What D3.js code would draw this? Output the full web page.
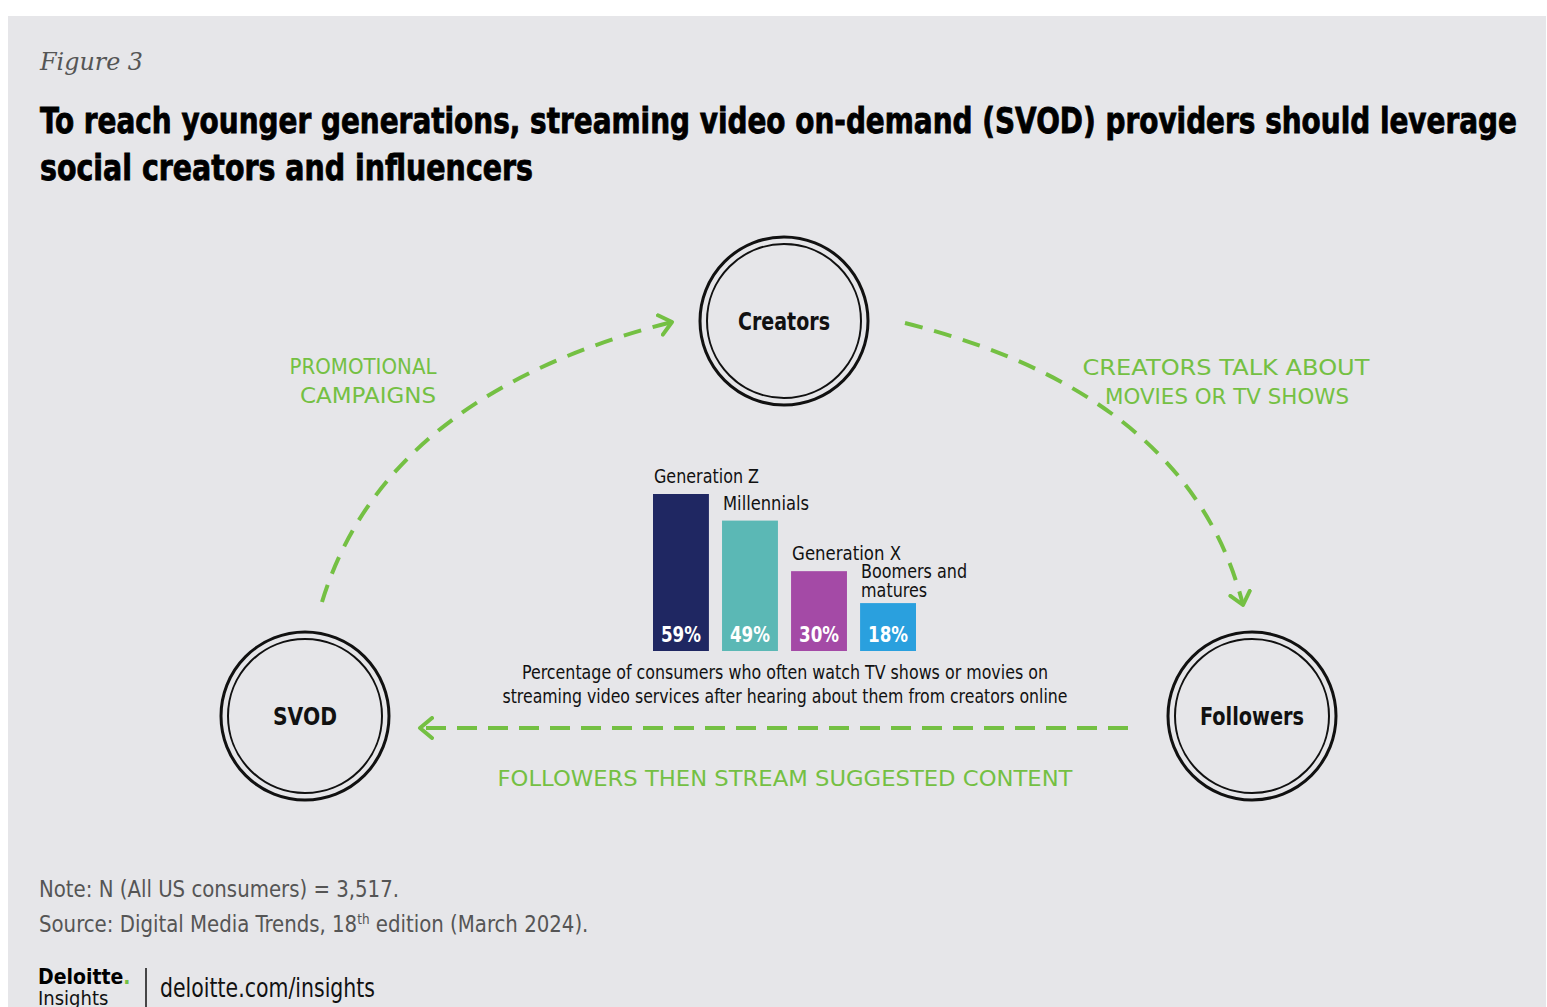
<!DOCTYPE html>
<html>
<head>
<meta charset="utf-8">
<script src="https://cdn.jsdelivr.net/npm/d3@7"></script>
<style>
  body { margin: 0; background: #ffffff; }
  svg { display: block; }
</style>
</head>
<body>
<div id="chart"></div>
<script>
// bar data
const generations = ['Generation Z', 'Millennials', 'Generation X', 'Boomers and matures'];
const genLabelLines = [['Generation Z'], ['Millennials'], ['Generation X'], ['Boomers and', 'matures']];
const shares = [59, 49, 30, 18];
const barColors = ['#1f2762', '#5bb8b5', '#a44aa6', '#2aa0de'];

// diagram data
const nodeNames = ['Creators', 'SVOD', 'Followers'];
const flowLabels = [
    ['PROMOTIONAL', 'CAMPAIGNS'],
    ['CREATORS TALK ABOUT', 'MOVIES OR TV SHOWS'],
    ['FOLLOWERS THEN STREAM SUGGESTED CONTENT']
];
const captionLines = [
    'Percentage of consumers who often watch TV shows or movies on',
    'streaming video services after hearing about them from creators online'
];

const W = 1547, H = 1007;
const green = '#74c043';
const condensed = '"DejaVu Sans Condensed", "DejaVu Sans", sans-serif';
const heavy = '"DejaVu Sans Condensed", "DejaVu Sans", sans-serif';

const svg = d3.select('#chart').append('svg')
    .attr('width', W)
    .attr('height', H);

// panel
svg.append('rect')
    .attr('x', 8).attr('y', 16)
    .attr('width', W - 9).attr('height', H - 16)
    .attr('fill', '#e6e6e9');

// header
svg.append('text')
    .attr('x', 40).attr('y', 70)
    .style('font-family', '"DejaVu Serif", "Liberation Serif", serif')
    .style('font-style', 'italic')
    .style('font-size', '25px')
    .style('fill', '#555')
    .attr('textLength', 103).attr('lengthAdjust', 'spacingAndGlyphs')
    .text('Figure 3');

const titleLines = [
    { text: 'To reach younger generations, streaming video on-demand (SVOD) providers should leverage', len: 1477 },
    { text: 'social creators and influencers', len: 493 }
];
svg.selectAll('.title')
    .data(titleLines)
    .enter()
    .append('text')
    .attr('class', 'title')
    .attr('x', 40)
    .attr('y', (d, i) => 133 + i * 47)
    .attr('textLength', d => d.len)
    .attr('lengthAdjust', 'spacingAndGlyphs')
    .style('font-family', heavy)
    .style('font-weight', 'bold')
    .style('font-size', '36px')
    .style('fill', '#000')
    .style('stroke', '#000')
    .style('stroke-width', 0.8)
    .text(d => d.text);

// nodes
const nodes = [
    { name: nodeNames[0], x: 784, y: 321, len: 92 },
    { name: nodeNames[1], x: 305, y: 716, len: 64 },
    { name: nodeNames[2], x: 1252, y: 716, len: 104 }
];
const node = svg.selectAll('.node')
    .data(nodes)
    .enter()
    .append('g')
    .attr('class', 'node')
    .attr('transform', d => `translate(${d.x},${d.y})`);

node.append('circle')
    .attr('r', 84)
    .attr('fill', 'none')
    .attr('stroke', '#111')
    .attr('stroke-width', 3);
node.append('circle')
    .attr('r', 77)
    .attr('fill', 'none')
    .attr('stroke', '#111')
    .attr('stroke-width', 2);
node.append('text')
    .attr('text-anchor', 'middle')
    .attr('dy', 9)
    .attr('textLength', d => d.len)
    .attr('lengthAdjust', 'spacingAndGlyphs')
    .style('font-family', heavy)
    .style('font-weight', 'bold')
    .style('font-size', '25px')
    .style('fill', '#111')
    .text(d => d.name);

// arrows
const defs = svg.append('defs');
defs.append('marker')
    .attr('id', 'chev')
    .attr('markerUnits', 'userSpaceOnUse')
    .attr('viewBox', '-14 -12 18 24')
    .attr('markerWidth', 18).attr('markerHeight', 24)
    .attr('refX', 0).attr('refY', 0)
    .attr('orient', 'auto')
    .append('path')
    .attr('d', 'M-12,-10 L0,0 L-12,10')
    .attr('fill', 'none')
    .attr('stroke', green)
    .attr('stroke-width', 4)
    .attr('stroke-linecap', 'round')
    .attr('stroke-linejoin', 'round');

const flows = [
    { from: [322, 602], ctrl: [385, 395], to: [672, 322], dash: '18 12' },
    { from: [905, 323], ctrl: [1190, 395], to: [1243, 605], dash: '18 12' },
    { from: [1128, 728], ctrl: null, to: [420, 728], dash: '20 11' }
];
flows.forEach(f => {
    const p = d3.path();
    p.moveTo(f.from[0], f.from[1]);
    if (f.ctrl) p.quadraticCurveTo(f.ctrl[0], f.ctrl[1], f.to[0], f.to[1]);
    else p.lineTo(f.to[0], f.to[1]);
    svg.append('path')
        .attr('d', p.toString())
        .attr('fill', 'none')
        .attr('stroke', green)
        .attr('stroke-width', 4)
        .attr('stroke-dasharray', f.dash)
        .attr('marker-end', 'url(#chev)');
});

// flow labels (hand lettered in the original)
const flowText = [
    { lines: flowLabels[0], x: 363, y: 374, lens: [147, 136], dx: [0, 5] },
    { lines: flowLabels[1], x: 1226, y: 375, lens: [287, 244], dx: [0, 1] },
    { lines: flowLabels[2], x: 785, y: 786, lens: [575], dx: [0] }
];
flowText.forEach(ft => {
    svg.selectAll(null)
        .data(ft.lines)
        .enter()
        .append('text')
        .attr('x', (d, i) => ft.x + ft.dx[i])
        .attr('y', (d, i) => ft.y + i * 29)
        .attr('text-anchor', 'middle')
        .attr('textLength', (d, i) => ft.lens[i])
        .attr('lengthAdjust', 'spacingAndGlyphs')
        .style('font-family', '"DejaVu Sans", sans-serif')
        .style('font-size', '21px')
        .style('fill', green)
        .text(d => d);
});

// bar chart
const x = d3.scaleBand()
    .domain(generations)
    .range([653, 916])
    .paddingInner(0.19)
    .paddingOuter(0);
const y = d3.scaleLinear()
    .domain([0, 59])
    .range([651, 494]);

const bars = svg.selectAll('.bar')
    .data(generations)
    .enter()
    .append('g')
    .attr('class', 'bar');

bars.append('rect')
    .attr('x', d => x(d))
    .attr('y', (d, i) => y(shares[i]))
    .attr('width', x.bandwidth())
    .attr('height', (d, i) => y(0) - y(shares[i]))
    .attr('fill', (d, i) => barColors[i]);

bars.append('text')
    .attr('x', d => x(d) + x.bandwidth() / 2)
    .attr('y', y(0) - 9)
    .attr('text-anchor', 'middle')
    .attr('textLength', 40)
    .attr('lengthAdjust', 'spacingAndGlyphs')
    .style('font-family', heavy)
    .style('font-weight', 'bold')
    .style('font-size', '21px')
    .style('fill', '#fff')
    .text((d, i) => shares[i] + '%');

// label widths as measured in the original artwork
const labelLens = { 'Generation Z': 105, 'Millennials': 86, 'Generation X': 109, 'Boomers and': 106, 'matures': 66 };
bars.each(function (d, i) {
    const lines = genLabelLines[i];
    const gap = lines.length > 1 ? 6 : 11;
    d3.select(this).selectAll('.glabel')
        .data(lines)
        .enter()
        .append('text')
        .attr('class', 'glabel')
        .attr('x', x(d) + 1)
        .attr('y', (t, j) => y(shares[i]) - gap - (lines.length - 1 - j) * 19)
        .attr('textLength', t => labelLens[t])
        .attr('lengthAdjust', 'spacingAndGlyphs')
        .style('font-family', condensed)
        .style('font-size', '19px')
        .style('fill', '#111')
        .text(t => t);
});

svg.selectAll('.caption')
    .data(captionLines)
    .enter()
    .append('text')
    .attr('class', 'caption')
    .attr('x', 785)
    .attr('y', (d, i) => 679 + i * 24)
    .attr('text-anchor', 'middle')
    .attr('textLength', (d, i) => [526, 565][i])
    .attr('lengthAdjust', 'spacingAndGlyphs')
    .style('font-family', condensed)
    .style('font-size', '19px')
    .style('fill', '#111')
    .text(d => d);

// notes
const notes = svg.append('g')
    .attr('transform', 'translate(39,0) scale(0.955,1)')
    .style('font-family', condensed)
    .style('font-size', '23px')
    .style('fill', '#555');
notes.append('text')
    .attr('x', 0).attr('y', 897)
    .text('Note: N (All US consumers) = 3,517.');
const src = notes.append('text')
    .attr('x', 0).attr('y', 932);
src.append('tspan').text('Source: Digital Media Trends, 18');
src.append('tspan').attr('dy', -8).style('font-size', '14px').text('th');
src.append('tspan').attr('dy', 8).text(' edition (March 2024).');

// logo
const logo = svg.append('g');
const dl = logo.append('text')
    .attr('x', 38).attr('y', 984)
    .style('font-family', heavy)
    .style('font-weight', 'bold')
    .style('font-size', '21px')
    .style('fill', '#000');
dl.append('tspan').text('Deloitte');
dl.append('tspan').style('fill', green).text('.');
logo.append('text')
    .attr('x', 38).attr('y', 1005)
    .style('font-family', condensed)
    .style('font-size', '20px')
    .style('fill', '#111')
    .text('Insights');
logo.append('line')
    .attr('x1', 146).attr('x2', 146)
    .attr('y1', 968).attr('y2', 1007)
    .attr('stroke', '#111')
    .attr('stroke-width', 1.5);
logo.append('text')
    .attr('x', 160).attr('y', 997)
    .attr('textLength', 215)
    .attr('lengthAdjust', 'spacingAndGlyphs')
    .style('font-family', condensed)
    .style('font-size', '27px')
    .style('fill', '#111')
    .text('deloitte.com/insights');
</script>
</body>
</html>
